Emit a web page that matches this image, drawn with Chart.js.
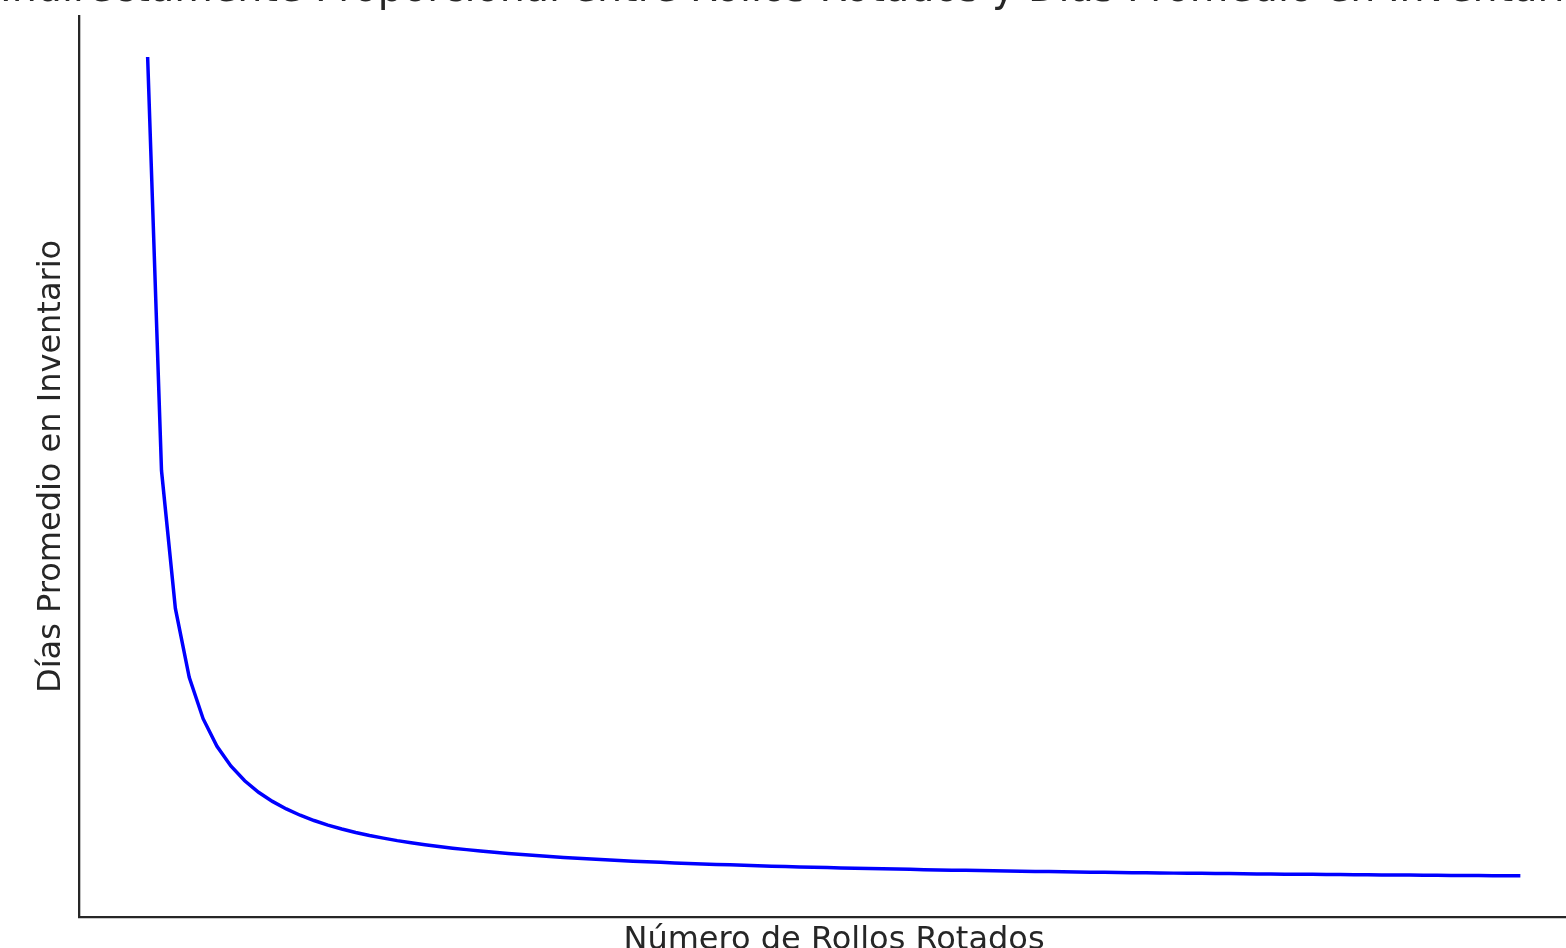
<!DOCTYPE html>
<html lang="es">
<head>
    <meta charset="UTF-8">
    <title>Rollos Rotados vs Días Promedio</title>
    <script src="https://cdn.jsdelivr.net/npm/chart.js"></script>
    <style>
        body { margin: 0; overflow: hidden; background: #fff; width: 1566px; height: 948px; position: relative; }
        /* lienzo más ancho que la ventana: el título queda recortado como en la imagen */
        #grafico { position: absolute; left: -166px; top: -32px; }
    </style>
</head>
<body>
    <canvas id="grafico" width="2000" height="992"></canvas>
    <script>
        // Número de rollos rotados (eje x)
        const rollos = [
            1, 2, 3, 4, 5, 6, 7, 8, 9, 10, 11, 12, 13, 14, 15, 16, 17, 18, 19, 20,
            21, 22, 23, 24, 25, 26, 27, 28, 29, 30, 31, 32, 33, 34, 35, 36, 37, 38, 39, 40,
            41, 42, 43, 44, 45, 46, 47, 48, 49, 50, 51, 52, 53, 54, 55, 56, 57, 58, 59, 60,
            61, 62, 63, 64, 65, 66, 67, 68, 69, 70, 71, 72, 73, 74, 75, 76, 77, 78, 79, 80,
            81, 82, 83, 84, 85, 86, 87, 88, 89, 90, 91, 92, 93, 94, 95, 96, 97, 98, 99, 100
        ];
        // Días promedio en inventario (eje y, sin escala visible)
        const dias = [
            100, 50, 33.33, 25, 20, 16.67, 14.29, 12.5, 11.11, 10,
            9.09, 8.33, 7.69, 7.14, 6.67, 6.25, 5.88, 5.56, 5.26, 5,
            4.76, 4.55, 4.35, 4.17, 4, 3.85, 3.7, 3.57, 3.45, 3.33,
            3.23, 3.13, 3.03, 2.94, 2.86, 2.78, 2.7, 2.63, 2.56, 2.5,
            2.44, 2.38, 2.33, 2.27, 2.22, 2.17, 2.13, 2.08, 2.04, 2,
            1.96, 1.92, 1.89, 1.85, 1.82, 1.79, 1.75, 1.72, 1.69, 1.67,
            1.64, 1.61, 1.59, 1.56, 1.54, 1.52, 1.49, 1.47, 1.45, 1.43,
            1.41, 1.39, 1.37, 1.35, 1.33, 1.32, 1.3, 1.28, 1.27, 1.25,
            1.23, 1.22, 1.2, 1.19, 1.18, 1.16, 1.15, 1.14, 1.12, 1.11,
            1.1, 1.09, 1.08, 1.06, 1.05, 1.04, 1.03, 1.02, 1.01, 1
        ];
        const titulo = 'Indirectamente Proporcional entre Rollos Rotados y Días Promedio en Inventario';
        const etiquetaX = 'Número de Rollos Rotados';
        const etiquetaY = 'Días Promedio en Inventario';

        const puntos = rollos.map((r, i) => ({ x: r, y: dias[i] }));
        const tinta = '#262626';
        const fuente = 'DejaVu Sans';

        new Chart(document.getElementById('grafico').getContext('2d'), {
            type: 'line',
            data: {
                datasets: [{
                    data: puntos,
                    borderColor: '#0000ff',
                    borderWidth: 3.5,
                    pointRadius: 0,
                    tension: 0,
                    fill: false
                }]
            },
            options: {
                responsive: false,
                animation: false,
                devicePixelRatio: 1,
                layout: { padding: { left: 166, right: 245, top: 0, bottom: 0 } },
                plugins: {
                    legend: { display: false },
                    tooltip: { enabled: false },
                    title: {
                        display: true,
                        text: titulo,
                        color: tinta,
                        font: { family: fuente, size: 42.8, weight: 'normal', lineHeight: 1.0 },
                        padding: { top: 0.3, bottom: 4.9 }
                    }
                },
                scales: {
                    x: {
                        type: 'linear',
                        min: -3.95,
                        max: 104.95,
                        grid: { display: false, drawTicks: false },
                        border: { display: true, color: tinta, width: 2.3 },
                        ticks: { display: false },
                        title: {
                            display: true,
                            text: etiquetaX,
                            color: tinta,
                            font: { family: fuente, size: 32, lineHeight: 1.2 },
                            padding: { top: 4.8, bottom: 0 }
                        }
                    },
                    y: {
                        type: 'linear',
                        min: -3.95,
                        max: 104.95,
                        grid: { display: false, drawTicks: false },
                        border: { display: true, color: tinta, width: 2.3 },
                        ticks: { display: false },
                        title: {
                            display: true,
                            text: etiquetaY,
                            color: tinta,
                            font: { family: fuente, size: 32, lineHeight: 1.2 },
                            padding: { top: 32.3, bottom: 8.3 }
                        }
                    }
                }
            }
        });
    </script>
</body>
</html>
